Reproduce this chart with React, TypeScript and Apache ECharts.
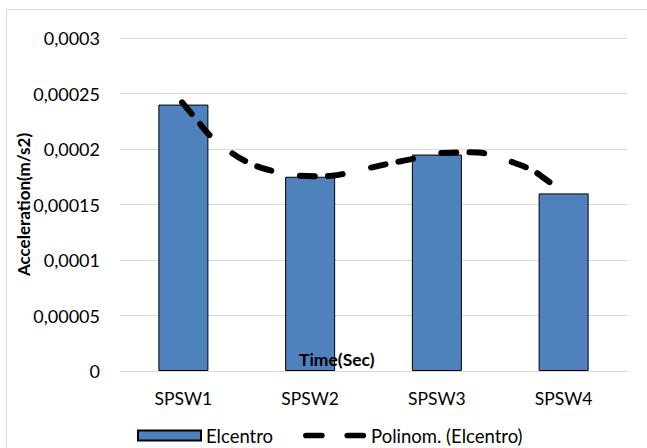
import React, { useEffect, useRef } from "react";
import * as echarts from "echarts";

const categories = ["SPSW1", "SPSW2", "SPSW3", "SPSW4"];
const elcentro = [0.00024, 0.000175, 0.000195, 0.00016];
// trendline points: [category position (0..4), value]
const trendX = [0.49, 0.6, 0.72, 0.85, 1.01, 1.21, 1.4, 1.56, 1.79, 1.97, 2.13, 2.35, 2.54, 2.75, 2.93, 3.1, 3.25, 3.33, 3.46, 3.5];
const trendY = [0.000242, 0.000227, 0.000211, 0.000199, 0.000188, 0.00018, 0.000176, 0.0001755, 0.000178, 0.000183, 0.000187, 0.000192, 0.0001965, 0.000197, 0.000195, 0.000188, 0.000181, 0.000175, 0.000164, 0.000161];
const yTicks = { min: 0, max: 0.0003, interval: 0.00005 };

const FONT = "Lato";
const DASH_ICON =
  "path://M3,0 H20 A3,3 0 0 1 20,6 H3 A3,3 0 0 1 3,0 Z M47,0 H64 A3,3 0 0 1 64,6 H47 A3,3 0 0 1 47,0 Z";

export default function App() {
  const ref = useRef<HTMLDivElement>(null);
  useEffect(() => {
    if (!ref.current) return;
    const chart = echarts.init(ref.current, undefined, { renderer: "svg" });
    const trend = trendX.map((x, i) => [x, trendY[i]]);
    chart.setOption({
      animation: false,
      backgroundColor: "#ffffff",
      textStyle: { fontFamily: FONT },
      grid: { left: 120, right: 20, top: 38, bottom: 77 },
      xAxis: [
        {
          type: "category",
          data: categories,
          axisLine: { lineStyle: { color: "#d9d9d9", width: 1 } },
          axisTick: { show: false },
          axisLabel: { color: "#000", fontSize: 17.5, fontFamily: FONT, margin: 18 },
        },
        { type: "value", min: 0, max: 4, show: false },
      ],
      yAxis: {
        type: "value",
        min: yTicks.min,
        max: yTicks.max,
        interval: yTicks.interval,
        name: "Acceleration(m/s2)",
        nameLocation: "middle",
        nameGap: 88,
        nameMoveOverlap: false,
        nameTextStyle: { color: "#000", fontSize: 17, fontWeight: "bold", fontFamily: FONT },
        axisLine: { show: false },
        axisTick: { show: false },
        splitLine: { lineStyle: { color: "#d9d9d9", width: 1 } },
        axisLabel: {
          color: "#000",
          fontSize: 18,
          fontFamily: FONT,
          margin: 20,
          formatter: (v: number) => String(Number(v.toPrecision(6))).replace(".", ","),
        },
      },
      legend: {
        left: 132,
        top: 421,
        itemWidth: 63,
        itemHeight: 10,
        itemGap: 30,
        textStyle: { color: "#000", fontSize: 18.5, fontFamily: FONT },
        data: [
          { name: "Elcentro", icon: "rect" },
          {
            name: "Polinom. (Elcentro)",
            icon: DASH_ICON,
            itemStyle: { color: "#000", borderWidth: 0 },
          },
        ],
      },
      graphic: [
        {
          type: "rect",
          shape: { x: 6.5, y: 9.5, width: 700, height: 500 },
          style: { fill: "none", stroke: "#d9d9d9", lineWidth: 1 },
          z: -10,
        },
        {
          type: "text",
          left: 299,
          top: 350,
          style: { text: "Time(Sec)", fill: "#000", font: `bold 17.5px ${FONT}` },
          z: 100,
        },
      ],
      series: [
        {
          name: "Elcentro",
          type: "bar",
          data: elcentro,
          barWidth: 50,
          itemStyle: { color: "#4f81bd", borderColor: "#000", borderWidth: 1 },
        },
        {
          name: "Polinom. (Elcentro)",
          type: "line",
          xAxisIndex: 1,
          data: trend,
          smooth: true,
          symbol: "none",
          lineStyle: { color: "#000", width: 6, type: [15, 13, 15, 29], cap: "round" },
          itemStyle: { color: "#000" },
          z: 5,
        },
      ],
    });
    return () => chart.dispose();
  }, []);
  return <div ref={ref} style={{ position: "fixed", left: 0, top: 0, width: 647, height: 448 }} />;
}
